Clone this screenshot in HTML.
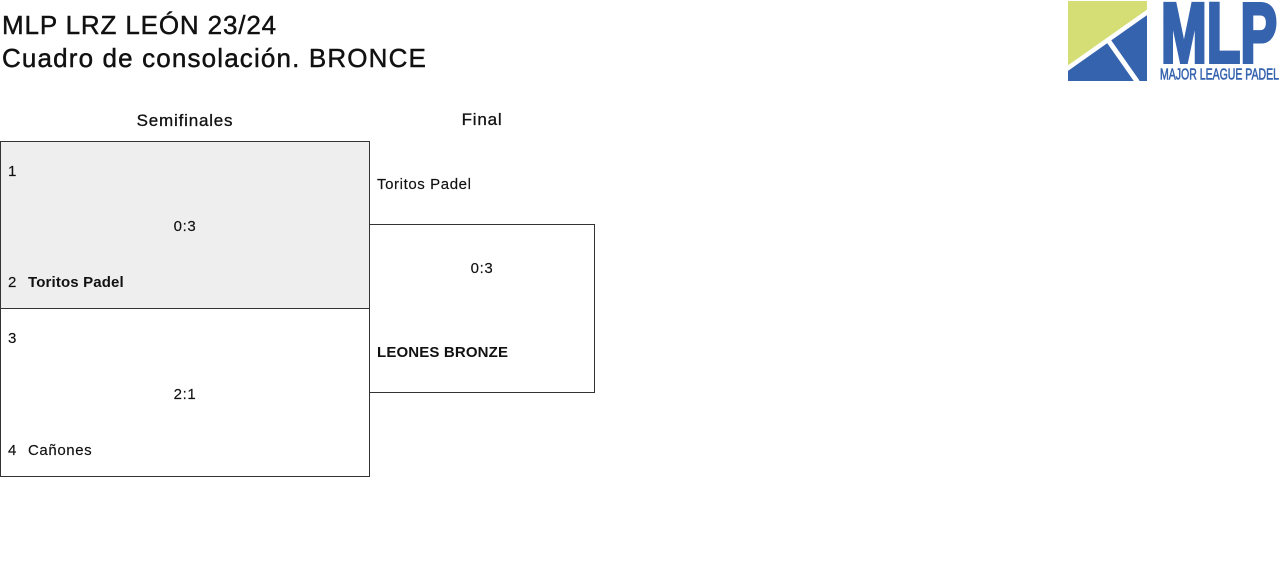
<!DOCTYPE html>
<html>
<head>
<meta charset="utf-8">
<style>
  html, body { margin:0; padding:0; background:#fff; }
  body { width:1280px; height:562px; position:relative; overflow:hidden;
         font-family:"Liberation Sans", Arial, sans-serif; color:#111; }
  .t { position:absolute; white-space:nowrap; }
  .title { font-size:26px; line-height:33px; color:#111; left:2px; -webkit-text-stroke:0.45px #111; }
  .hdr { font-size:17px; line-height:20px; letter-spacing:0.8px; text-align:center; -webkit-text-stroke:0.3px #111; }
  .row { font-size:15px; line-height:20px; height:20px; letter-spacing:0.6px; -webkit-text-stroke:0.15px #111; }
  .b { font-weight:bold; letter-spacing:0.15px; -webkit-text-stroke:0; }
  .box { position:absolute; box-sizing:border-box; border:1px solid #333; }
</style>
</head>
<body>

<div class="t title" style="top:9px; letter-spacing:0.85px;">MLP LRZ LEÓN 23/24</div>
<div class="t title" style="top:42px; letter-spacing:1.15px;">Cuadro de consolación. BRONCE</div>

<!-- Logo -->
<svg style="position:absolute; left:0; top:0;" width="1280" height="90" viewBox="0 0 1280 90">
  <rect x="1068" y="1" width="79" height="80" fill="#3563ae"/>
  <polygon points="1068,1 1147,1 1147,10 1068,67" fill="#d4de74"/>
  <line x1="1066" y1="69.5" x2="1149" y2="11" stroke="#fff" stroke-width="4.5"/>
  <line x1="1108" y1="40" x2="1137.5" y2="82" stroke="#fff" stroke-width="5"/>
  <text x="1161" y="62" font-family="Liberation Sans, Arial, sans-serif" font-weight="bold" font-size="84" fill="#3563ae" stroke="#3563ae" stroke-width="4" stroke-linejoin="miter" textLength="116" lengthAdjust="spacingAndGlyphs">MLP</text>
  <text x="1160" y="79.5" font-family="Liberation Sans, Arial, sans-serif" font-size="16" fill="#3563ae" stroke="#3563ae" stroke-width="0.6" textLength="119" lengthAdjust="spacingAndGlyphs">MAJOR LEAGUE PADEL</text>
</svg>

<!-- Headers -->
<div class="t hdr" style="left:0; width:370px; top:111px;">Semifinales</div>
<div class="t hdr" style="left:369px; width:226px; top:110px;">Final</div>

<!-- Semifinal boxes -->
<div class="box" style="left:0; top:141px; width:370px; height:168px; background:#eeeeee;"></div>
<div class="box" style="left:0; top:308px; width:370px; height:169px; background:#fff;"></div>

<div class="t row" style="left:8px; top:161.5px;">1</div>
<div class="t row" style="left:0; width:370px; text-align:center; top:216.5px;">0:3</div>
<div class="t row" style="left:8px; top:272.5px;">2</div>
<div class="t row b" style="left:28px; top:272.5px;">Toritos Padel</div>

<div class="t row" style="left:8px; top:328.5px;">3</div>
<div class="t row" style="left:0; width:370px; text-align:center; top:384.5px;">2:1</div>
<div class="t row" style="left:8px; top:440.5px;">4</div>
<div class="t row" style="left:28px; top:440.5px;">Cañones</div>

<!-- Final -->
<div class="t row" style="left:377px; top:174.5px;">Toritos Padel</div>
<div class="box" style="left:369px; top:224px; width:226px; height:169px; background:transparent;"></div>
<div class="t row" style="left:369px; width:226px; text-align:center; top:258.5px;">0:3</div>
<div class="t row b" style="left:377px; top:342.5px;">LEONES BRONZE</div>

</body>
</html>
